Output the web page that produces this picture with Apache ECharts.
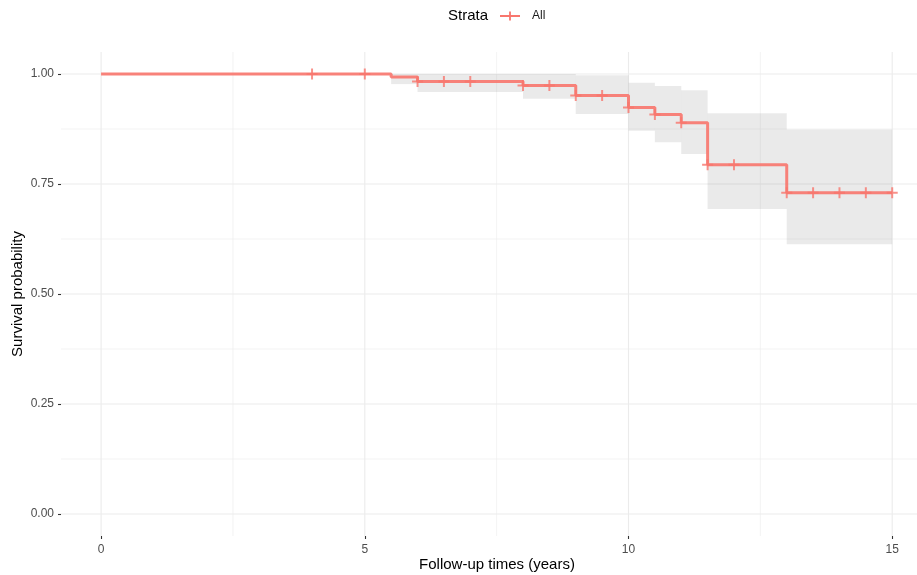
<!DOCTYPE html>
<html>
<head>
<meta charset="utf-8">
<script src="https://cdn.jsdelivr.net/npm/echarts@6/dist/echarts.min.js"></script>
<style>html,body{margin:0;padding:0;background:#fff;}#chart{width:917px;height:575px;}</style>
</head>
<body>
<div id="chart"></div>
<script>
// Kaplan-Meier step data
const eventTimes = [0, 5.5, 6, 8, 9, 10, 10.5, 11, 11.5, 13, 15];
const survival   = [1, 0.993, 0.983, 0.974, 0.951, 0.924, 0.908, 0.889, 0.794, 0.730, 0.730];
const ciUpper    = [1, 1, 1, 1, 0.997, 0.980, 0.973, 0.963, 0.911, 0.874, 0.874];
const ciLower    = [1, 0.977, 0.959, 0.944, 0.909, 0.871, 0.845, 0.818, 0.693, 0.613, 0.613];
const censorTimes = [4, 5, 6, 6.5, 7, 8, 8.5, 9, 9.5, 10, 10.5, 11, 11.5, 12, 13, 13.5, 14, 14.5, 15];
const xTicks = [0, 5, 10, 15];
const xMinor = [2.5, 7.5, 12.5];
const yTicks = [0, 0.25, 0.5, 0.75, 1];
const yMinor = [0.125, 0.375, 0.625, 0.875];

const FONT = '"Liberation Sans", Arial, Helvetica, sans-serif';
const lineColor = '#F8766D';

function survAt(t) {
  let s = survival[0];
  for (let i = 0; i < eventTimes.length; i++) if (eventTimes[i] <= t) s = survival[i];
  return s;
}

const gridData = [];
xTicks.forEach(v => gridData.push([v, 0, 1]));
xMinor.forEach(v => gridData.push([v, 0, 0]));
yTicks.forEach(v => gridData.push([v, 1, 1]));
yMinor.forEach(v => gridData.push([v, 1, 0]));

const bandData = [];
for (let i = 0; i < eventTimes.length - 1; i++) {
  bandData.push([eventTimes[i], eventTimes[i + 1], ciLower[i], ciUpper[i]]);
}

const chart = echarts.init(document.getElementById('chart'), null, {renderer: 'canvas'});
const option = {
  animation: false,
  backgroundColor: '#ffffff',
  textStyle: {fontFamily: FONT},
  grid: {left: 61, right: 0, top: 52, bottom: 39, containLabel: false},
  legend: {
    left: 500, top: 10, padding: 0,
    itemWidth: 20, itemHeight: 11,
    data: [{name: 'All', icon: 'path://M0,4.5 L20,4.5 L20,6.5 L0,6.5 Z M9.1,1 L10.9,1 L10.9,10 L9.1,10 Z'}],
    textStyle: {fontSize: 12, color: '#1a1a1a', fontFamily: FONT, padding: [0, 0, 0, 7]},
    selectedMode: false
  },
  graphic: [
    {type: 'text', left: 448, top: 8, style: {text: 'Strata', fontSize: 15, fill: '#000', fontFamily: FONT}},
    {type: 'text', x: 18, y: 294, rotation: Math.PI / 2,
     style: {text: 'Survival probability', fontSize: 15, fill: '#000', fontFamily: FONT, align: 'center', verticalAlign: 'middle'}},
    {type: 'text', x: 497, y: 565,
     style: {text: 'Follow-up times (years)', fontSize: 15, fill: '#000', fontFamily: FONT, align: 'center', verticalAlign: 'middle'}}
  ],
  xAxis: {
    type: 'value', min: -0.76, max: 15.47,
    axisLine: {show: false, onZero: false},
    splitLine: {show: false},
    axisTick: {show: true, customValues: xTicks, length: 3, lineStyle: {color: '#333', width: 1.1}},
    axisLabel: {customValues: xTicks, color: '#4D4D4D', fontSize: 12, margin: 8, fontFamily: FONT}
  },
  yAxis: {
    type: 'value', min: -0.05, max: 1.05,
    axisLine: {show: false, onZero: false},
    splitLine: {show: false},
    axisTick: {show: true, customValues: yTicks, length: 3, lineStyle: {color: '#333', width: 1.1}},
    axisLabel: {customValues: yTicks, color: '#4D4D4D', fontSize: 12, margin: 7, fontFamily: FONT,
      formatter: v => v.toFixed(2)}
  },
  series: [
    {
      name: 'gridlines', type: 'custom', silent: true, z: 0,
      data: gridData,
      encode: {x: 0},
      renderItem: function (params, api) {
        const v = api.value(0), dir = api.value(1), major = api.value(2);
        const cs = params.coordSys;
        const w = major ? 1.1 : 0.6;
        if (dir === 0) {
          const p = api.coord([v, 0]);
          return {type: 'line', shape: {x1: p[0], y1: cs.y, x2: p[0], y2: cs.y + cs.height},
                  style: {stroke: '#EBEBEB', lineWidth: w}};
        } else {
          const p = api.coord([0, v]);
          return {type: 'line', shape: {x1: cs.x, y1: p[1], x2: cs.x + cs.width, y2: p[1]},
                  style: {stroke: '#EBEBEB', lineWidth: w}};
        }
      }
    },
    {
      name: 'ci', type: 'custom', silent: true, z: 1,
      data: bandData,
      encode: {x: [0, 1], y: [2, 3]},
      renderItem: function (params, api) {
        const t0 = api.value(0), t1 = api.value(1), lo = api.value(2), up = api.value(3);
        if (up - lo < 1e-9) return null;
        const a = api.coord([t0, up]);
        const b = api.coord([t1, lo]);
        return {type: 'rect', shape: {x: a[0], y: a[1], width: b[0] - a[0], height: b[1] - a[1]},
                style: {fill: 'rgba(127,127,127,0.16)'}};
      }
    },
    {
      name: 'All', type: 'line', step: 'end', z: 3,
      data: eventTimes.map((t, i) => [t, survival[i]]),
      symbol: 'none',
      itemStyle: {color: lineColor},
      lineStyle: {color: lineColor, width: 3, opacity: 0.9}
    },
    {
      name: 'All', type: 'scatter', z: 4,
      data: censorTimes.map(t => [t, survAt(t)]),
      symbol: 'path://M4.1,0 L5.9,0 L5.9,4.1 L10,4.1 L10,5.9 L5.9,5.9 L5.9,10 L4.1,10 L4.1,5.9 L0,5.9 L0,4.1 L4.1,4.1 Z',
      symbolSize: 11,
      itemStyle: {color: lineColor}
    }
  ]
};
chart.setOption(option);
</script>
</body>
</html>
